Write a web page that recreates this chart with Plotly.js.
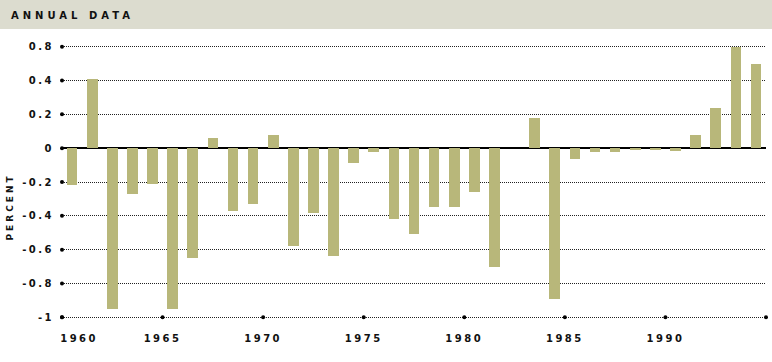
<!DOCTYPE html>
<html>
<head>
<meta charset="utf-8">
<script src="https://cdn.plot.ly/plotly-3.0.1.min.js"></script>
<style>
html,body{margin:0;padding:0;background:#fff;}
#chart{width:772px;height:362px;}
.js-plotly-plot .xtick text, .js-plotly-plot .ytick text{letter-spacing:2.5px;}
.js-plotly-plot .annotation-text{letter-spacing:3px;}
.js-plotly-plot g.annotation[data-index="0"] .annotation-text{letter-spacing:4px;}
</style>
</head>
<body>
<div id="chart"></div>
<script>
// ---- data ----
const years = [1960,1961,1962,1963,1964,1965,1966,1967,1968,1969,
               1970,1971,1972,1973,1974,1975,1976,1977,1978,1979,
               1980,1981,1982,1983,1984,1985,1986,1987,1988,1989,
               1990,1991,1992,1993,1994];
const values = [-0.22,0.41,-0.95,-0.27,-0.21,-0.95,-0.65,0.06,-0.37,-0.33,
                0.08,-0.58,-0.385,-0.635,-0.09,-0.02,-0.42,-0.51,-0.35,-0.35,
                -0.26,-0.70,0,0.177,-0.89,-0.066,-0.024,-0.024,-0.012,-0.009,
                -0.015,0.08,0.238,0.60,0.50];
const yTickVals = [0.6,0.4,0.2,0,-0.2,-0.4,-0.6,-0.8,-1];
const yTickText = ["0.8","0.4","0.2","0","-0.2","-0.4","-0.6","-0.8","-1"];
const xTickYears = [1960,1965,1970,1975,1980,1985,1990,1995];
const xLabelYears = [1960,1965,1970,1975,1980,1985,1990];
const titleText = "ANNUAL DATA";
const yTitleText = "PERCENT";

// ---- chart ----
const FONT = "DejaVu Sans, sans-serif";
const barX = years.map(y => y + 0.5);
const labelPos = xLabelYears.map((y,i) => i === 0 ? y + 0.85 : y);

const traces = [
  {type:'bar', x: barX, y: values, width: 0.53,
   marker:{color:'#b8b77a', line:{width:0}}, hoverinfo:'x+y'},
  {type:'scatter', mode:'markers', x: yTickVals.map(() => 1960), y: yTickVals,
   marker:{color:'#000', size:4}, cliponaxis:false, hoverinfo:'skip'},
  {type:'scatter', mode:'markers', x: xTickYears, y: xTickYears.map(() => -1),
   marker:{color:'#000', size:4}, cliponaxis:false, hoverinfo:'skip'}
];

const layout = {
  width: 772, height: 362,
  margin: {l: 62, r: 6.3, t: 45.2, b: 43.2},
  paper_bgcolor: '#fff', plot_bgcolor: '#fff',
  showlegend: false,
  bargap: 0,
  xaxis: {
    range: [1960, 1995], showgrid: false, zeroline: false, showline: false,
    tickmode: 'array', tickvals: labelPos, ticktext: xLabelYears.map(String),
    ticks: 'outside', ticklen: 10, tickcolor: 'rgba(0,0,0,0)',
    tickfont: {family: FONT, size: 10, color: '#111', weight: 'bold'}
  },
  yaxis: {
    range: [-1.01, 0.61], showgrid: true, griddash: '1px,1px',
    gridcolor: '#222', gridwidth: 1,
    zeroline: true, zerolinecolor: '#000', zerolinewidth: 1.6,
    showline: false,
    tickmode: 'array', tickvals: yTickVals, ticktext: yTickText,
    ticks: 'outside', ticklen: 5, tickcolor: 'rgba(0,0,0,0)',
    tickfont: {family: FONT, size: 10, color: '#111', weight: 'bold'}
  },
  shapes: [
    {type:'rect', xref:'paper', yref:'paper', x0:-0.2, x1:1.2,
     y0:(318.8-29.3)/273.6, y1:1.3, fillcolor:'#dcdccf', line:{width:0}, layer:'below'}
  ],
  annotations: [
    {text: titleText, xref:'paper', yref:'paper',
     x: (72-62)/703.7, y: (318.8-15.3)/273.6, xanchor:'center', yanchor:'middle',
     showarrow:false, font:{family: FONT, size: 10, color:'#111', weight:'bold'}},
    {text: yTitleText, xref:'paper', yref:'paper', textangle:-90,
     x: -52/703.7, y: (318.8-206)/273.6, xanchor:'center', yanchor:'middle',
     showarrow:false, font:{family: FONT, size: 9, color:'#111', weight:'bold'}}
  ]
};

Plotly.newPlot('chart', traces, layout, {displayModeBar:false, staticPlot:true});
</script>
</body>
</html>
